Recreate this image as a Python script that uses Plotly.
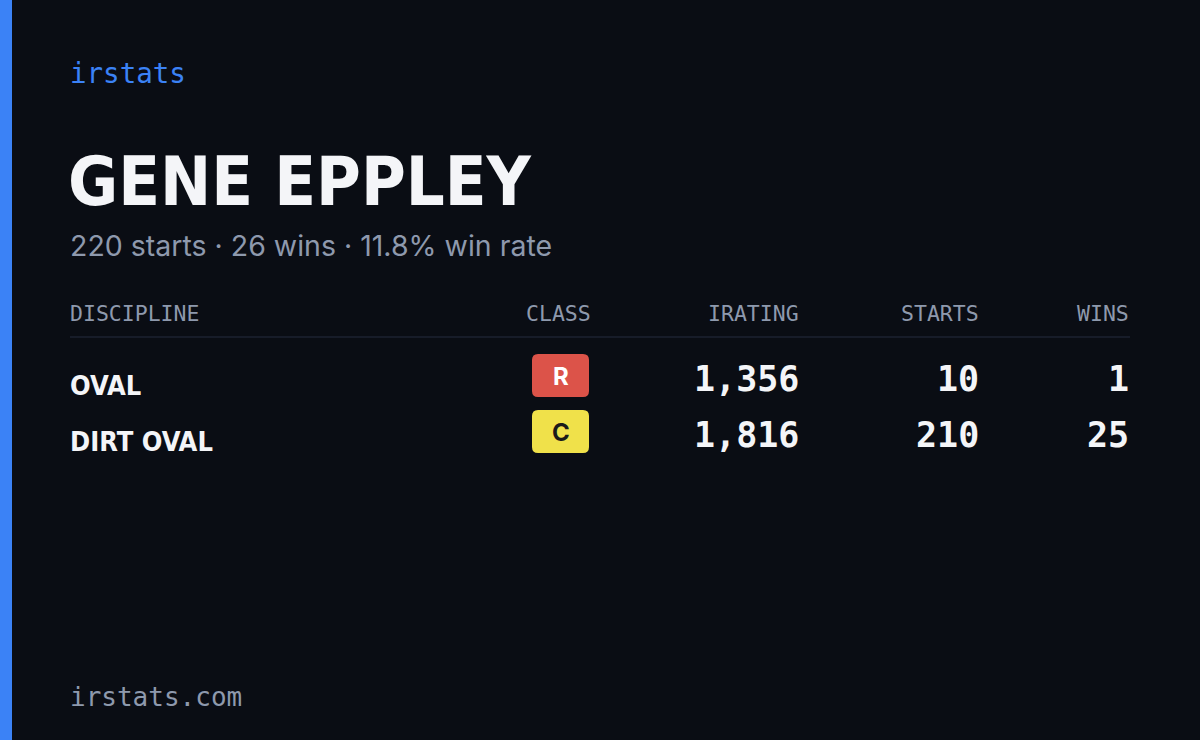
import plotly.graph_objects as go

disciplines = ["OVAL", "DIRT OVAL"]
classes = ["R", "C"]
class_colors = ["#dc5349", "#f0e14a"]
class_text = ["#ffffff", "#1a1a1a"]
iratings = ["1,356", "1,816"]
starts = ["10", "210"]
wins = ["1", "25"]
headers = ["DISCIPLINE", "CLASS", "IRATING", "STARTS", "WINS"]
row_y = [381, 437]

fig = go.Figure()
mono = "DejaVu Sans Mono"
cond = "DejaVu Sans Condensed"

def rr(x0, y0, x1, y1, r):
    return (f"M{x0+r},{y0} L{x1-r},{y0} Q{x1},{y0} {x1},{y0+r} L{x1},{y1-r} Q{x1},{y1} {x1-r},{y1} "
            f"L{x0+r},{y1} Q{x0},{y1} {x0},{y1-r} L{x0},{y0+r} Q{x0},{y0} {x0+r},{y0} Z")

shapes = [dict(type="rect", x0=0, x1=12, y0=0, y1=740, fillcolor="#3b82f6", line_width=0),
          dict(type="line", x0=70, x1=1130, y0=337, y1=337, line=dict(color="#1c2230", width=1.5))]
for i, y in enumerate(row_y):
    shapes.append(dict(type="path", path=rr(532, y - 27, 589, y + 16, 6),
                       fillcolor=class_colors[i], line_width=0))

ann = []
def A(x, y, t, size, color, font, anchor="left", bold=False):
    ann.append(dict(x=x, y=y, text=f"<b>{t}</b>" if bold else t, showarrow=False, xanchor=anchor,
                    yanchor="middle", font=dict(size=size, color=color, family=font)))

A(68, 73, "irstats", 27.5, "#3b82f6", mono)
A(66, 181, "GENE EPPLEY", 68, "#f4f5f8", cond, bold=True)
A(68, 245, "220 starts · 26 wins · 11.8% win rate", 28.5, "#8e99ad", "Inter")
hx = [(68, "left"), (593, "right"), (801, "right"), (981, "right"), (1131, "right")]
for (x, a), h in zip(hx, headers):
    A(x, 313, h, 21.5, "#8e99ad", mono, a)
for i, y in enumerate(row_y):
    A(68, y + 4, disciplines[i], 27, "#f4f5f8", cond, bold=True)
    A(560.5, y - 5, classes[i], 24, class_text[i], "Inter", "center", bold=True)
    A(801, y - 2, iratings[i], 35, "#f4f5f8", mono, "right", bold=True)
    A(981, y - 2, starts[i], 35, "#f4f5f8", mono, "right", bold=True)
    A(1131, y - 2, wins[i], 35, "#f4f5f8", mono, "right", bold=True)
A(68, 697, "irstats.com", 26, "#8e99ad", mono)

fig.update_layout(width=1200, height=740, margin=dict(l=0, r=0, t=0, b=0),
                  paper_bgcolor="#0a0d14", plot_bgcolor="#0a0d14", shapes=shapes, annotations=ann,
                  xaxis=dict(range=[0, 1200], visible=False, fixedrange=True),
                  yaxis=dict(range=[740, 0], visible=False, fixedrange=True), showlegend=False)
fig.write_html("out.html", config={"displayModeBar": False},
               post_script="document.body.style.margin='0';document.body.style.background='#0a0d14';")
